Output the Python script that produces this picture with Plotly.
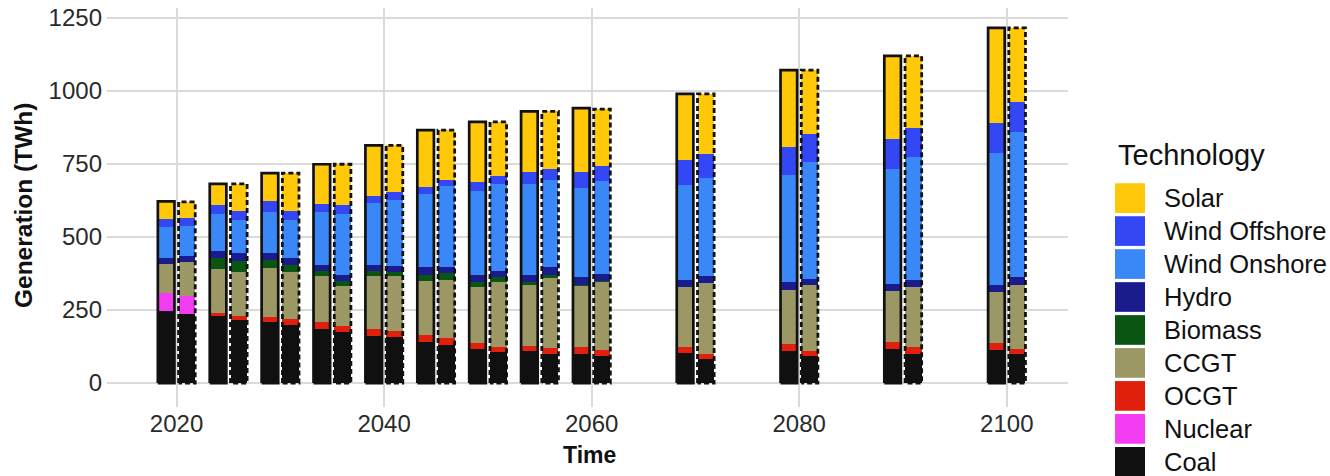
import numpy as np
import plotly.graph_objects as go

# ---- data ---------------------------------------------------------------
years = [2020, 2025, 2030, 2035, 2040, 2045, 2050, 2055, 2060, 2070, 2080, 2090, 2100]

# scenario A (solid outline) and scenario B (dashed outline), TWh
coal_a = [246, 228, 208, 184, 162, 139, 117, 111, 101, 102, 111, 117, 113]
coal_b = [237, 217, 199, 176, 156, 131, 107, 100, 94, 83, 91, 100, 100]
nuclear_a = [62, 0, 0, 0, 0, 0, 0, 0, 0, 0, 0, 0, 0]
nuclear_b = [60, 0, 0, 0, 0, 0, 0, 0, 0, 0, 0, 0, 0]
ocgt_a = [0, 13, 19, 24, 22, 26, 19, 17, 22, 20, 23, 22, 23]
ocgt_b = [0, 14, 20, 20, 23, 23, 18, 20, 19, 17, 20, 22, 17]
ccgt_a = [100, 151, 167, 157, 184, 183, 193, 207, 211, 207, 186, 175, 175]
ccgt_b = [119, 149, 160, 135, 186, 200, 220, 239, 233, 242, 226, 206, 220]
biomass_a = [0, 37, 28, 17, 16, 23, 16, 11, 2, 0, 0, 0, 0]
biomass_b = [0, 37, 26, 17, 15, 22, 17, 12, 2, 0, 0, 0, 0]
hydro_a = [21, 23, 22, 23, 21, 28, 26, 25, 27, 23, 26, 25, 26]
hydro_b = [20, 27, 22, 23, 22, 23, 22, 25, 25, 25, 20, 26, 25]
onshore_a = [104, 126, 142, 180, 211, 249, 288, 311, 306, 326, 366, 393, 452]
onshore_b = [101, 114, 130, 209, 226, 277, 297, 300, 320, 334, 400, 421, 497]
offshore_a = [28, 33, 37, 29, 23, 22, 31, 39, 55, 85, 97, 102, 102]
offshore_b = [28, 32, 31, 28, 25, 18, 27, 37, 51, 84, 96, 99, 102]
solar_a = [61, 71, 96, 135, 175, 196, 204, 209, 217, 227, 262, 286, 325]
solar_b = [55, 92, 131, 141, 161, 172, 186, 197, 194, 205, 218, 246, 255]

# stacking order: bottom to top
technologies = ["Coal", "Nuclear", "OCGT", "CCGT", "Biomass", "Hydro",
                "Wind Onshore", "Wind Offshore", "Solar"]
series_a = [coal_a, nuclear_a, ocgt_a, ccgt_a, biomass_a, hydro_a, onshore_a, offshore_a, solar_a]
series_b = [coal_b, nuclear_b, ocgt_b, ccgt_b, biomass_b, hydro_b, onshore_b, offshore_b, solar_b]
colors = {
    "Solar": "#FFC90A",
    "Wind Offshore": "#3447F5",
    "Wind Onshore": "#3A88F7",
    "Hydro": "#1A1C8E",
    "Biomass": "#0B5512",
    "CCGT": "#9C9866",
    "OCGT": "#E0200C",
    "Nuclear": "#F43CF2",
    "Coal": "#101010",
}

# ---- geometry -----------------------------------------------------------
DODGE = 1.0       # years either side of the tick
BAR_W = 1.6       # bar width in years
yr = np.array(years, dtype=float)
x_a = yr - DODGE
x_b = yr + DODGE

fig = go.Figure()

for tech, va, vb in zip(technologies, series_a, series_b):
    fig.add_trace(go.Bar(
        x=np.concatenate([x_a, x_b]),
        y=np.concatenate([va, vb]),
        width=BAR_W,
        name=tech,
        marker=dict(color=colors[tech], line=dict(width=0)),
        showlegend=False,
    ))

tot_a = np.sum(np.array(series_a), axis=0)
tot_b = np.sum(np.array(series_b), axis=0)


def outline(xc, tops):
    xs, ys = [], []
    for x, t in zip(xc, tops):
        l, r = x - BAR_W / 2, x + BAR_W / 2
        xs += [l, l, r, r, l, None]
        ys += [0, t, t, 0, 0, None]
    return xs, ys


xs, ys = outline(x_a, tot_a)
fig.add_trace(go.Scatter(x=xs, y=ys, mode="lines", showlegend=False,
                         line=dict(color="#111111", width=2.7)))
xs, ys = outline(x_b, tot_b)
fig.add_trace(go.Scatter(x=xs, y=ys, mode="lines", showlegend=False,
                         line=dict(color="#111111", width=2.8, dash="5px,3px")))

# ---- layout -------------------------------------------------------------
W, H = 1330, 476
ML, MR, MT, MB = 107, 262, 4, 69
PW, PH = W - ML - MR, H - MT - MB
FONT = "Liberation Sans, Arial, Helvetica, sans-serif"
GRID = "#DADADA"


def px_x(px):
    return (px - ML) / PW


def px_y(py):
    return (H - MB - py) / PH


fig.update_layout(
    width=W, height=H,
    margin=dict(l=ML, r=MR, t=MT, b=MB),
    paper_bgcolor="white", plot_bgcolor="white",
    barmode="stack",
    font=dict(family=FONT, color="#222222"),
    xaxis=dict(range=[2013.3, 2105.9], tickvals=[2020, 2040, 2060, 2080, 2100],
               showgrid=True, gridcolor=GRID, gridwidth=1.5, zeroline=False,
               showline=False, ticks="", tickfont=dict(size=24, color="#2a2a2a")),
    yaxis=dict(range=[-82, 1284], tickvals=[0, 250, 500, 750, 1000, 1250],
               showgrid=True, gridcolor=GRID, gridwidth=1.5, zeroline=False,
               showline=False, ticks="", ticklabelstandoff=4,
               tickfont=dict(size=24, color="#2a2a2a")),
)

annotations = [
    dict(text="<b>Time</b>", x=px_x(589), y=px_y(455), xref="paper", yref="paper",
         showarrow=False, font=dict(size=23, color="#111111"),
         xanchor="center", yanchor="middle"),
    dict(text="<b>Generation (TWh)</b>", x=px_x(23), y=px_y(203), xref="paper", yref="paper",
         showarrow=False, textangle=-90, font=dict(size=24.5, color="#111111"),
         xanchor="center", yanchor="middle"),
    dict(text="Technology", x=px_x(1116), y=px_y(152), xref="paper", yref="paper",
         showarrow=False, font=dict(size=29, color="#111111"),
         xanchor="left", yanchor="middle"),
]
shapes = []
legend_order = technologies[::-1]
for i, tech in enumerate(legend_order):
    cy = 196 + i * 33.3
    shapes.append(dict(type="rect", xref="paper", yref="paper",
                       x0=px_x(1115), x1=px_x(1145), y0=px_y(cy - 15), y1=px_y(cy + 15),
                       fillcolor=colors[tech], line=dict(width=0)))
    annotations.append(dict(text=tech, x=px_x(1162), y=px_y(cy), xref="paper", yref="paper",
                            showarrow=False, font=dict(size=25.5, color="#111111"),
                            xanchor="left", yanchor="middle"))

fig.update_layout(annotations=annotations, shapes=shapes)

fig.write_html("out.html")
